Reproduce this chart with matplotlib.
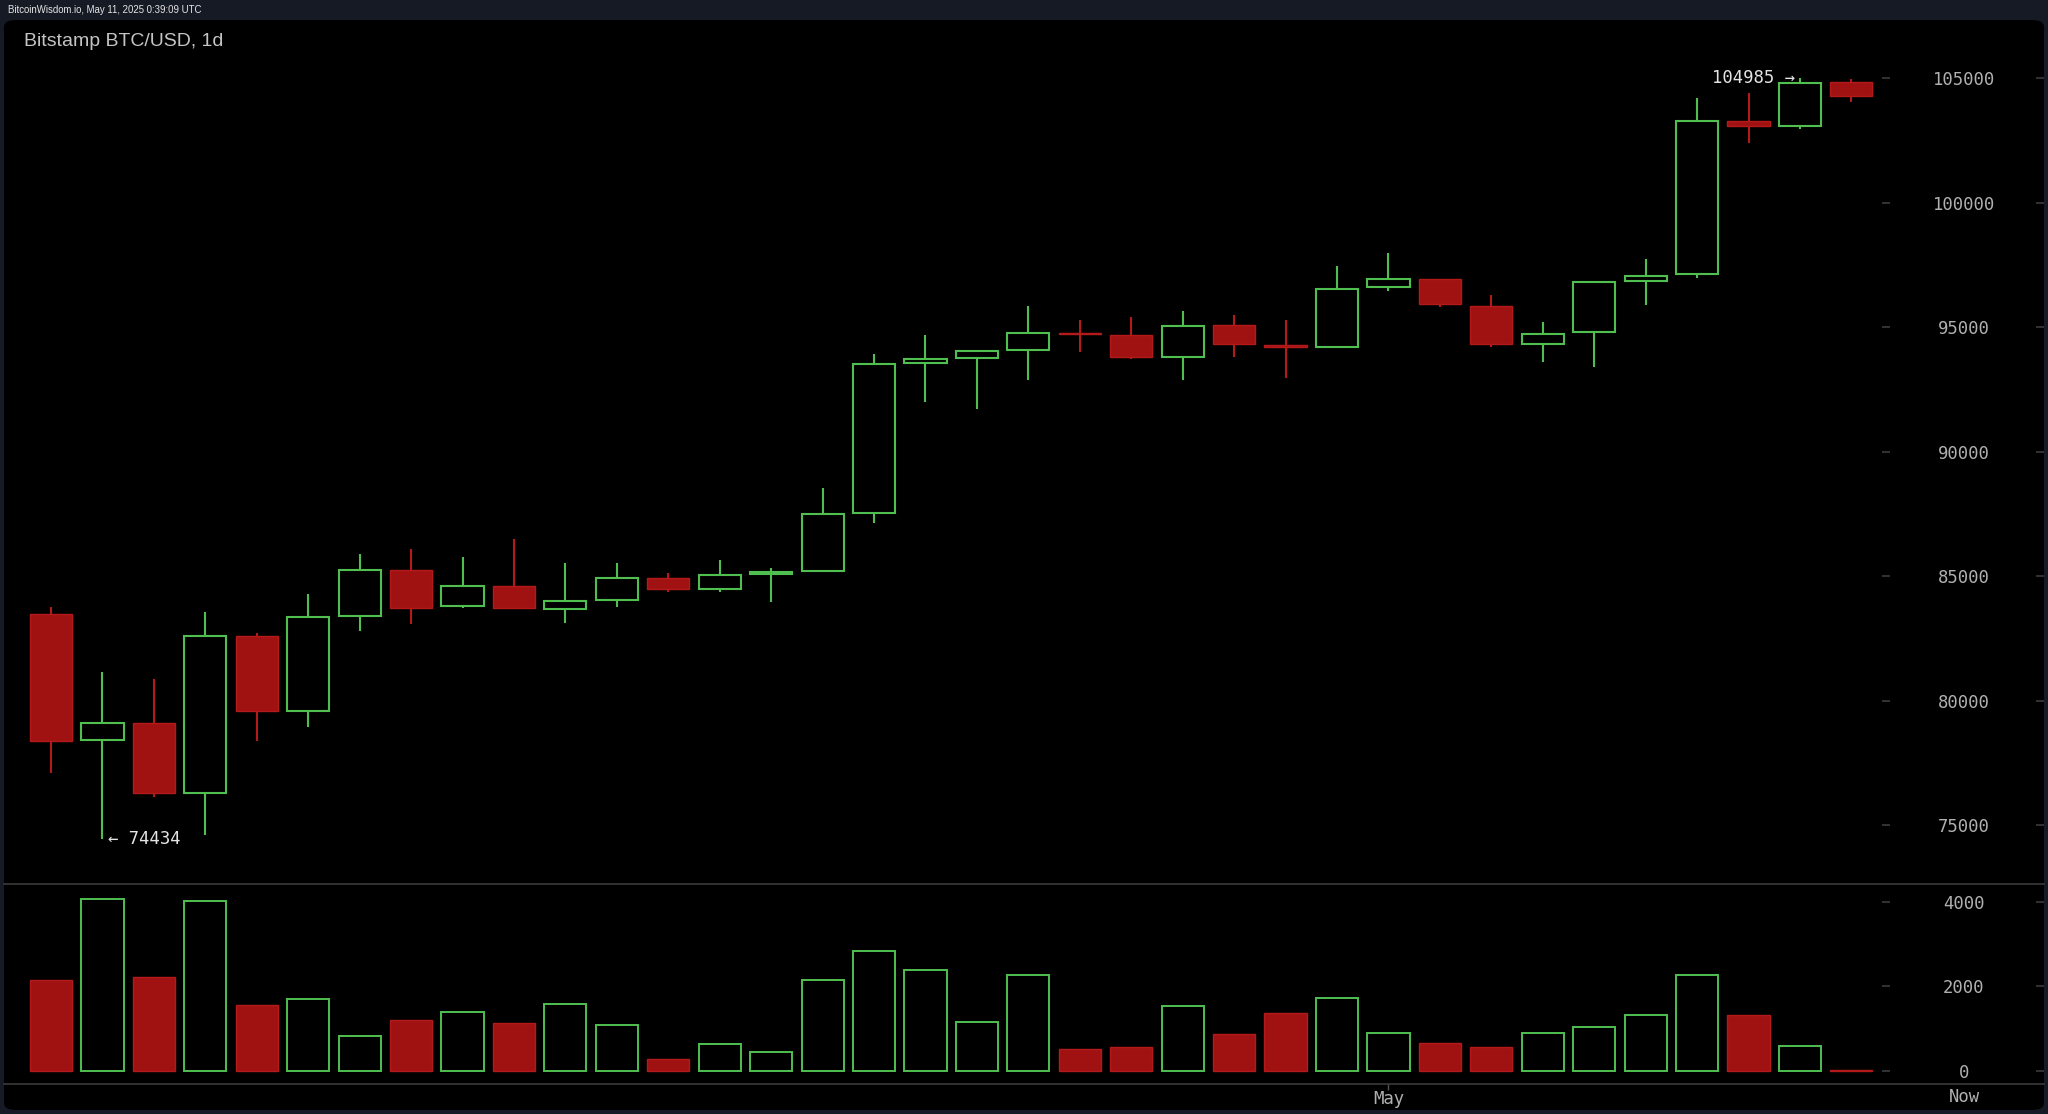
import matplotlib
matplotlib.use("Agg")
import matplotlib.pyplot as plt
from matplotlib.patches import FancyBboxPatch
from matplotlib.lines import Line2D

# daily candles, Apr 6 .. May 11 (index 0..35)
opens = [83480, 78410, 79100, 76270, 82580, 79590, 83410, 85230, 83780, 84590,
         83660, 84050, 84910, 84490, 85080, 85220, 87540, 93540, 93740, 94060,
         94750, 94680, 93810, 95070, 94270, 94210, 96590, 96930, 95830, 94330,
         94790, 96850, 97120, 103260, 103060, 104830]
highs = [83740, 81160, 80850, 83560, 82710, 84280, 85900, 86070, 85760, 86490,
         85510, 85510, 85140, 85630, 85310, 88520, 93920, 94680, 94020, 95840,
         95270, 95390, 95660, 95480, 95270, 97460, 97990, 96930, 96290, 95190,
         96860, 97720, 104190, 104390, 104985, 104950]
lows = [77100, 74434, 76140, 74590, 78390, 78920, 82800, 83070, 83700, 83660,
        83130, 83770, 84370, 84370, 83970, 85180, 87120, 91970, 91710, 92870,
        94000, 93730, 92870, 93780, 92940, 94200, 96450, 95790, 94200, 93600,
        93410, 95870, 96960, 102380, 102940, 104020]
closes = [78370, 79100, 76270, 82580, 79580, 83350, 85230, 83720, 84590, 83720,
          84010, 84910, 84490, 85040, 85180, 87490, 93500, 93700, 94020, 94750,
          94710, 93800, 95060, 94330, 94210, 96540, 96910, 95940, 94330, 94710,
          96800, 97050, 103270, 103060, 104810, 104280]
volumes = [2165, 4060, 2236, 4021, 1556, 1699, 822, 1209, 1390, 1138,
           1580, 1090, 292, 632, 442, 2165, 2844, 2386, 1169, 2267,
           522, 569, 1548, 869, 1367, 1738, 893, 672, 569, 893,
           1051, 1319, 2267, 1327, 593, 30]

price_ticks = [75000, 80000, 85000, 90000, 95000, 100000, 105000]
vol_ticks = [0, 2000, 4000]
time_ticks = [26]
time_labels = ["May"]

GREEN = "#4fc04f"
RED_FACE = "#a01212"
RED_EDGE = "#b51a1a"
FRAME = "#151a25"
LABEL = "#b0b0b0"
DASH = "#3c3c3c"
W, H = 2048, 1114


def fx(px):
    return px / W


def fy(py):
    return 1 - py / H


fig = plt.figure(figsize=(20.48, 11.14), dpi=100)
fig.patch.set_facecolor(FRAME)

panel = FancyBboxPatch((fx(4), fy(1110)), fx(2040), 1090 / H,
                       boxstyle="round,pad=0,rounding_size=0.006",
                       transform=fig.transFigure, facecolor="black",
                       edgecolor="none", zorder=0)
fig.add_artist(panel)

fig.text(fx(8), fy(10), "BitcoinWisdom.io, May 11, 2025 0:39:09 UTC",
         family="Liberation Sans", fontsize=6.9, color="#e6e6e6",
         ha="left", va="center")
fig.text(fx(24), fy(41), "Bitstamp BTC/USD, 1d", family="Liberation Sans",
         fontsize=14, color="#c4c4c4", ha="left", va="center")

x0, x1 = 4, 1882
ax = fig.add_axes([fx(x0), fy(884), fx(x1 - x0), (884 - 20) / H])
axv = fig.add_axes([fx(x0), fy(1084), fx(x1 - x0), (1084 - 884) / H])

xs = list(range(len(opens)))
xlim = ((x0 - 51) / 51.44, (x1 - 51) / 51.44)
bw = 0.82

up = [c >= o for o, c in zip(opens, closes)]
for a in (ax, axv):
    a.set_facecolor("none")
    a.set_xlim(*xlim)
    for s in a.spines.values():
        s.set_visible(False)

# wicks
ax.vlines(xs, lows, highs, colors=[GREEN if u else RED_EDGE for u in up],
          linewidth=1.5, zorder=1)
# bodies
for i in xs:
    lo = min(opens[i], closes[i])
    hgt = max(abs(closes[i] - opens[i]), 60)
    if up[i]:
        ax.bar(i, hgt, bottom=lo, width=bw, facecolor="black",
               edgecolor=GREEN, linewidth=1.5, zorder=2)
        axv.bar(i, volumes[i], width=bw, facecolor="black",
                edgecolor=GREEN, linewidth=1.4, zorder=2)
    else:
        ax.bar(i, hgt, bottom=lo, width=bw, facecolor=RED_FACE,
               edgecolor=RED_EDGE, linewidth=1.0, zorder=2)
        axv.bar(i, volumes[i], width=bw, facecolor=RED_FACE,
                edgecolor=RED_EDGE, linewidth=1.0, zorder=2)

ax.set_ylim(105000 - 806 * 40.16, 105000 + 58 * 40.16)
axv.set_ylim(-308, 4426)

mono = {"family": "DejaVu Sans Mono", "size": 12.4, "color": LABEL}
for a, ticks in ((ax, price_ticks), (axv, vol_ticks)):
    a.yaxis.tick_right()
    a.set_yticks(ticks, [str(t) for t in ticks], ha="center", **mono)
    a.tick_params(axis="y", direction="out", length=6, width=1.2,
                  color=DASH, pad=53)
    # dashes on the right edge of the panel
    ar = fig.add_axes([fx(x1), a.get_position().y0, fx(2044 - x1),
                       a.get_position().height], sharey=a)
    ar.set_facecolor("none")
    ar.set_xticks([])
    for s in ar.spines.values():
        s.set_visible(False)
    ar.yaxis.tick_right()
    ar.tick_params(axis="y", direction="in", length=6, width=1.2,
                   color=DASH, labelright=False)
for t in ax.get_yticklabels() + axv.get_yticklabels():
    t.set_y(t.get_position()[1])
    t.set_va("center_baseline")

ax.set_xticks([])
axv.set_xticks(time_ticks, time_labels, **mono)
axv.tick_params(axis="x", direction="out", length=4, width=1,
                color="#555555", pad=0.5)
fig.text(fx(1964), fy(1097), "Now", ha="center", va="center", **mono)

# separators
for py in (884, 1084):
    fig.add_artist(Line2D([fx(4), fx(2044)], [fy(py), fy(py)],
                          transform=fig.transFigure, color="#3a3a3a",
                          linewidth=1.2))

# extreme annotations
hi_i = highs.index(max(highs))
lo_i = lows.index(min(lows))
ax.text(hi_i - 0.1, highs[hi_i], f"{max(highs)} \u2192", ha="right",
        va="center", family="DejaVu Sans Mono", fontsize=12.4,
        color="#e4e4e4", zorder=3)
ax.text(lo_i + 0.1, lows[lo_i], f"\u2190 {min(lows)}", ha="left",
        va="center", family="DejaVu Sans Mono", fontsize=12.4,
        color="#e4e4e4", zorder=3)

fig.savefig("out.png", dpi=100, facecolor=fig.get_facecolor())
